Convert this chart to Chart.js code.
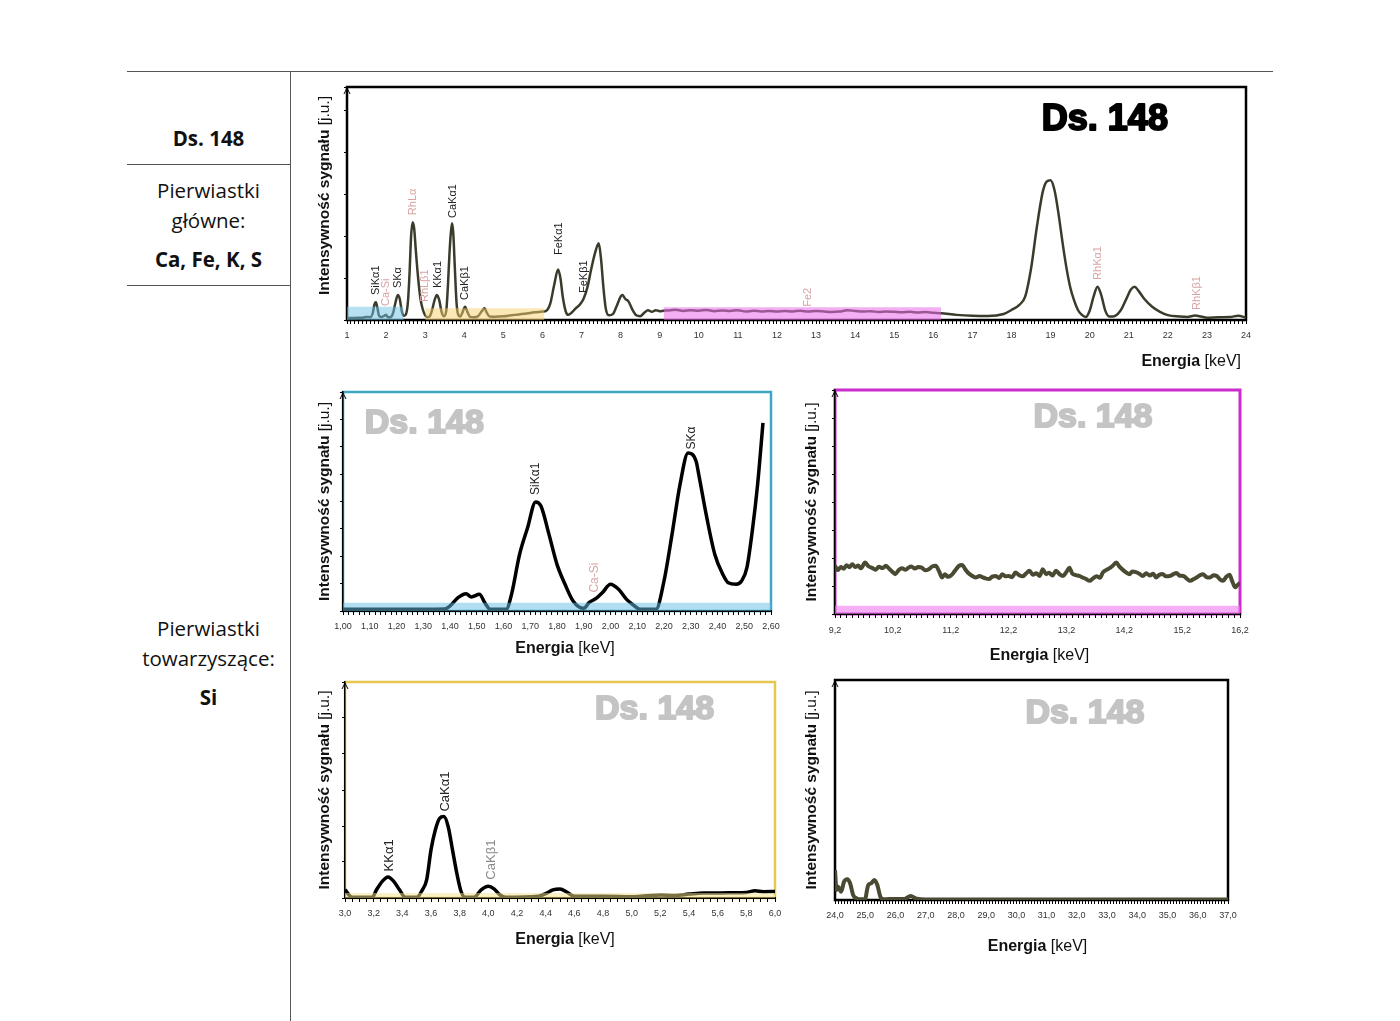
<!DOCTYPE html>
<html>
<head>
<meta charset="utf-8">
<script src="https://cdn.jsdelivr.net/npm/chart.js@4.4.1/dist/chart.umd.min.js"></script>
<style>
    body { margin: 0; background: #fff; width: 1400px; height: 1021px; position: relative; overflow: hidden; font-family: 'Open Sans', sans-serif; color: #111; }
    .rule { position: absolute; background: #555; }
    .cell { position: absolute; left: 127px; width: 163px; text-align: center; font-size: 20.5px; line-height: 26px; }
    .cell b { font-weight: 700; }
    .plot { position: absolute; }
</style>
</head>
<body>

<div class="rule" style="left:127px;top:71px;width:1146px;height:1px;"></div>
<div class="rule" style="left:290px;top:71px;width:1px;height:950px;"></div>
<div class="rule" style="left:127px;top:164px;width:163px;height:1px;"></div>
<div class="rule" style="left:127px;top:285px;width:163px;height:1px;"></div>

<div class="cell" style="top:125px;"><b>Ds. 148</b></div>
<div class="cell" style="top:177px;">Pierwiastki</div>
<div class="cell" style="top:207px;">główne:</div>
<div class="cell" style="top:246px;"><b>Ca, Fe, K, S</b></div>
<div class="cell" style="top:615px;">Pierwiastki</div>
<div class="cell" style="top:645px;">towarzyszące:</div>
<div class="cell" style="top:684px;"><b>Si</b></div>

<canvas id="mainChart" class="plot" width="960" height="300" style="left:300px;top:75px;"></canvas>
<canvas id="siChart" class="plot" width="490" height="285" style="left:300px;top:380px;"></canvas>
<canvas id="midChart" class="plot" width="470" height="290" style="left:795px;top:380px;"></canvas>
<canvas id="caChart" class="plot" width="490" height="290" style="left:300px;top:670px;"></canvas>
<canvas id="highChart" class="plot" width="470" height="295" style="left:795px;top:670px;"></canvas>

<script>
// --- widmo całkowite 1-24 keV ---
const mainEnergy = [1.00, 1.20, 1.40, 1.50, 1.60, 1.66, 1.70, 1.74, 1.78, 1.82, 1.88, 1.95, 2.00, 2.05, 2.12, 2.18, 2.24, 2.30, 2.35, 2.40,
    2.45, 2.50, 2.56, 2.60, 2.64, 2.68, 2.72, 2.76, 2.82, 2.88, 2.94, 3.00, 3.06, 3.12, 3.18, 3.24, 3.30, 3.36, 3.42, 3.48,
    3.54, 3.58, 3.62, 3.66, 3.69, 3.72, 3.76, 3.80, 3.84, 3.90, 3.96, 4.02, 4.08, 4.14, 4.25, 4.35, 4.45, 4.52, 4.58, 4.65,
    4.80, 5.00, 5.20, 5.40, 5.60, 5.80, 6.00, 6.10, 6.20, 6.30, 6.40, 6.46, 6.52, 6.60, 6.66, 6.75, 6.85, 6.95, 7.05, 7.15,
    7.25, 7.35, 7.44, 7.50, 7.56, 7.62, 7.70, 7.80, 7.90, 8.00, 8.05, 8.12, 8.20, 8.30, 8.40, 8.50, 8.60, 8.70, 8.80, 8.90,
    9.00, 9.10, 9.20, 9.40, 9.60, 9.80, 10.0, 10.2, 10.4, 10.6, 10.8, 11.0, 11.2, 11.4, 11.6, 11.8, 12.0, 12.2, 12.4, 12.6,
    12.8, 13.0, 13.2, 13.4, 13.6, 13.8, 14.0, 14.2, 14.4, 14.6, 14.8, 15.0, 15.2, 15.4, 15.6, 15.8, 16.0, 16.2, 16.6, 17.0,
    17.4, 17.8, 18.0, 18.2, 18.35, 18.5, 18.65, 18.8, 18.9, 19.0, 19.1, 19.2, 19.3, 19.4, 19.5, 19.6, 19.7, 19.8, 19.9, 20.0,
    20.1, 20.2, 20.3, 20.4, 20.5, 20.6, 20.8, 20.95, 21.05, 21.15, 21.25, 21.4, 21.6, 21.8, 22.0, 22.3, 22.5, 22.7, 22.85, 23.0,
    23.3, 23.6, 23.8, 24.0];
const mainSignal = [0.8, 0.9, 1.0, 1.3, 1.2, 3.0, 6.5, 7.6, 5.0, 1.8, 1.3, 1.8, 2.2, 1.2, 1.3, 3.0, 7.5, 10.7, 9.0, 4.0,
    1.8, 2.2, 8.0, 20.0, 36.0, 42.0, 39.0, 30.0, 18.0, 9.0, 4.5, 2.0, 1.2, 1.6, 4.5, 8.5, 10.7, 8.5, 3.5, 1.6,
    4.0, 14.0, 28.0, 38.0, 41.5, 37.0, 22.0, 8.0, 2.5, 1.5, 3.5, 5.7, 3.5, 1.5, 1.2, 1.6, 3.8, 5.0, 3.0, 1.5,
    1.4, 1.6, 2.0, 2.4, 2.8, 3.3, 3.6, 4.0, 7.0, 15.0, 21.7, 18.0, 10.0, 3.5, 2.2, 3.2, 5.0, 6.5, 9.0, 14.0,
    22.0, 29.0, 32.9, 26.0, 14.0, 5.0, 2.0, 2.5, 6.0, 10.0, 10.7, 9.0, 8.0, 4.5, 2.0, 1.6, 3.0, 4.2, 3.5, 4.2,
    3.8, 4.0, 4.1, 4.4, 3.9, 4.2, 4.0, 4.3, 3.8, 4.1, 3.9, 4.2, 3.6, 4.0, 3.7, 3.9, 3.6, 3.9, 3.7, 4.0,
    3.6, 3.9, 3.7, 3.4, 3.6, 4.2, 3.9, 3.6, 3.8, 3.4, 3.7, 3.5, 3.3, 3.5, 3.2, 3.4, 3.1, 2.9, 2.2, 1.8,
    1.7, 2.6, 4.3, 6.5, 10.0, 22.0, 40.0, 55.0, 59.4, 60.0, 55.8, 46.0, 34.0, 23.0, 14.3, 8.5, 4.3, 2.2, 1.3, 4.0,
    10.0, 14.3, 10.5, 4.0, 1.5, 1.5, 4.3, 9.5, 13.0, 14.3, 12.5, 9.0, 5.7, 3.5, 2.1, 1.5, 1.3, 1.9, 1.5, 1.0,
    1.2, 1.3, 1.8, 1.0];
const mainPeakNames = ['SiKα1', 'Ca-Si', 'SKα', 'RhLα', 'RhLβ1', 'KKα1', 'CaKα1', 'CaKβ1', 'FeKα1', 'FeKβ1', 'Fe2', 'RhKα1', 'RhKβ1'];
const mainPeakEnergy = [1.74, 2.00, 2.31, 2.70, 3.00, 3.32, 3.70, 4.03, 6.42, 7.07, 12.8, 20.22, 22.74];
const mainPeakLevel = [10.7, 6.0, 13.7, 45.0, 7.7, 13.7, 43.8, 8.6, 27.9, 11.6, 5.7, 17.2, 4.3];
const mainPeakKind = ['el', 'art', 'el', 'art', 'art', 'el', 'el', 'el', 'el', 'el', 'art', 'art', 'art'];

// --- zakres 1,00-2,60 keV ---
const siEnergy = [1.00, 1.10, 1.20, 1.30, 1.38, 1.40, 1.43, 1.46, 1.48, 1.51, 1.53, 1.55, 1.61, 1.63, 1.66, 1.69, 1.72, 1.74, 1.77, 1.80,
    1.83, 1.86, 1.90, 1.92, 1.95, 1.97, 2.00, 2.03, 2.06, 2.09, 2.11, 2.17, 2.20, 2.23, 2.26, 2.29, 2.32, 2.33, 2.36, 2.39,
    2.42, 2.44, 2.47, 2.49, 2.51, 2.53, 2.55, 2.57];
const siSignal = [0.8, 0.8, 0.8, 0.8, 0.9, 2.3, 6.1, 7.9, 6.4, 7.6, 3.8, 0.8, 0.8, 7.6, 25.8, 38.0, 49.8, 47.9, 35.0, 21.3,
    12.2, 4.6, 1.2, 3.8, 6.1, 8.4, 12.2, 9.9, 5.3, 2.3, 0.8, 0.8, 13.7, 35.0, 57.8, 72.2, 68.4, 62.3, 42.6, 25.8,
    16.7, 12.9, 12.2, 13.7, 19.8, 36.5, 57.8, 85.9];
const siPeakNames = ['SiKα1', 'Ca-Si', 'SKα'];
const siPeakEnergy = [1.72, 1.94, 2.305];
const siPeakLevel = [53.0, 8.4, 73.7];
const siPeakKind = ['el', 'art', 'el'];

// --- zakres 9,2-16,2 keV ---
const midEnergy = [9.20, 9.25, 9.30, 9.35, 9.40, 9.45, 9.50, 9.55, 9.60, 9.65, 9.72, 9.78, 9.84, 9.90, 9.96, 10.02, 10.08, 10.14, 10.20, 10.24,
    10.30, 10.36, 10.42, 10.47, 10.52, 10.58, 10.64, 10.70, 10.76, 10.82, 10.88, 10.94, 11.00, 11.05, 11.10, 11.15, 11.20, 11.25, 11.30, 11.34,
    11.40, 11.45, 11.50, 11.56, 11.63, 11.70, 11.75, 11.80, 11.86, 11.92, 11.98, 12.04, 12.09, 12.15, 12.20, 12.26, 12.32, 12.38, 12.44, 12.50,
    12.56, 12.62, 12.68, 12.74, 12.79, 12.85, 12.90, 12.96, 13.02, 13.08, 13.14, 13.20, 13.25, 13.30, 13.36, 13.42, 13.48, 13.54, 13.60, 13.66,
    13.72, 13.78, 13.83, 13.90, 13.96, 14.00, 14.06, 14.12, 14.18, 14.24, 14.29, 14.34, 14.40, 14.46, 14.52, 14.58, 14.64, 14.70, 14.75, 14.80,
    14.86, 14.92, 14.99, 15.05, 15.10, 15.16, 15.22, 15.28, 15.34, 15.40, 15.45, 15.50, 15.56, 15.62, 15.68, 15.74, 15.80, 15.86, 15.91, 15.96,
    16.02, 16.06, 16.10, 16.12, 16.16, 16.20];
const midSignal = [21.5, 19.6, 21.0, 20.2, 21.8, 20.9, 22.2, 21.0, 21.6, 20.4, 23.0, 21.3, 20.6, 19.8, 21.1, 20.5, 21.5, 20.1, 18.6, 17.8,
    19.6, 20.4, 19.7, 20.7, 21.2, 20.3, 21.0, 20.7, 19.5, 20.0, 21.2, 21.5, 19.0, 16.3, 17.8, 16.6, 17.1, 18.5, 20.2, 21.5,
    21.9, 20.0, 18.4, 17.2, 16.3, 17.0, 16.4, 15.9, 15.6, 16.7, 17.0, 16.1, 17.8, 16.8, 17.0, 16.4, 18.5, 17.4, 16.8, 18.0,
    19.3, 17.5, 18.2, 17.0, 20.0, 17.8, 18.4, 17.2, 19.3, 17.8, 17.0, 18.8, 20.7, 18.1, 17.4, 17.0, 16.3, 15.6, 14.8, 15.9,
    16.8, 16.2, 18.5, 19.8, 20.7, 21.5, 23.0, 21.0, 19.6, 18.4, 17.8, 19.0, 18.7, 18.0, 17.0, 18.2, 17.2, 18.0, 16.3, 17.4,
    17.9, 16.8, 17.0, 17.8, 18.3, 17.1, 17.0, 15.8, 14.8, 15.6, 16.3, 17.2, 17.8, 16.5, 16.3, 17.3, 17.0, 15.3, 14.8, 16.5,
    17.5, 15.0, 12.5, 11.9, 13.0, 14.0];

// --- zakres 3,0-6,0 keV ---
const caEnergy = [3.00, 3.05, 3.10, 3.19, 3.22, 3.26, 3.30, 3.34, 3.38, 3.42, 3.50, 3.54, 3.57, 3.60, 3.63, 3.66, 3.69, 3.72, 3.75, 3.78,
    3.81, 3.84, 3.90, 3.95, 4.00, 4.04, 4.08, 4.12, 4.35, 4.40, 4.45, 4.50, 4.55, 4.60, 4.80, 5.00, 5.10, 5.20, 5.30, 5.40,
    5.50, 5.60, 5.70, 5.80, 5.86, 5.92, 6.00];
const caSignal = [3.8, 0.3, 0.3, 0.3, 3.8, 7.7, 9.7, 7.7, 3.8, 0.3, 0.3, 3.8, 8.5, 22.3, 31.5, 36.9, 37.7, 33.0, 22.3, 11.5,
    3.0, 0.3, 0.3, 3.8, 5.4, 4.2, 1.5, 0.3, 0.8, 2.0, 3.8, 4.2, 2.6, 0.8, 0.8, 0.6, 1.0, 1.4, 1.2, 1.8,
    2.3, 2.3, 2.4, 2.6, 3.3, 2.9, 3.0];
const caPeakNames = ['KKα1', 'CaKα1', 'CaKβ1'];
const caPeakEnergy = [3.31, 3.70, 4.02];
const caPeakLevel = [12.3, 40.0, 8.5];
const caPeakKind = ['el', 'el', 'weak'];

// --- zakres 24,0-37,0 keV ---
const highEnergy = [24.00, 24.05, 24.10, 24.20, 24.30, 24.40, 24.50, 24.60, 24.70, 24.80, 25.00, 25.05, 25.10, 25.20, 25.30, 25.40, 25.50, 25.60, 26.00, 26.30,
    26.50, 26.70, 27.00, 28.00, 29.00, 30.00, 31.00, 32.00, 33.00, 34.00, 35.00, 36.00, 37.00];
const highSignal = [13.6, 4.5, 6.0, 3.8, 8.3, 9.4, 7.6, 2.3, 0.8, 0.3, 0.3, 3.8, 6.8, 7.6, 9.1, 6.8, 1.5, 0.3, 0.5, 0.5,
    1.8, 0.6, 0.2, 0.2, 0.2, 0.2, 0.2, 0.2, 0.2, 0.2, 0.2, 0.2, 0.2];

const kindColors = { el: '#222', art: '#d9a3a3', weak: '#8a8a8a' };
const sansFont = '"Liberation Sans", Arial, sans-serif';

function toPoints(xs, ys) {
    return xs.map((x, i) => ({ x: x, y: ys[i] }));
}

function toPeaks(names, energy, level, kind) {
    return names.map((n, i) => ({ text: n, e: energy[i], v: level[i], color: kindColors[kind[i]] }));
}

function measureMixed(ctx, boldPart, normalPart, size) {
    ctx.font = `bold ${size}px ${sansFont}`;
    const w1 = ctx.measureText(boldPart).width;
    ctx.font = `${size}px ${sansFont}`;
    const w2 = ctx.measureText(normalPart).width;
    return { w1, w2, total: w1 + w2 };
}

const spectrumDecor = {
    id: 'spectrumDecor',
    beforeDraw(chart, args, opts) {
        const { ctx, chartArea: a } = chart;
        ctx.save();
        ctx.strokeStyle = opts.frameColor;
        ctx.lineWidth = opts.frameWidth;
        ctx.strokeRect(a.left, a.top, a.right - a.left, a.bottom - a.top);
        ctx.restore();
    },
    afterDatasetsDraw(chart, args, opts) {
        const { ctx, chartArea: a, scales: { x, y } } = chart;
        ctx.save();

        // etykiety pików
        ctx.textBaseline = 'middle';
        ctx.textAlign = 'left';
        ctx.font = `${opts.peakSize}px ${sansFont}`;
        (opts.peaks || []).forEach(p => {
            ctx.save();
            ctx.translate(x.getPixelForValue(p.e), y.getPixelForValue(p.v));
            ctx.rotate(-Math.PI / 2);
            ctx.fillStyle = p.color;
            ctx.fillText(p.text, 0, 0);
            ctx.restore();
        });

        // napis próbki (pogrubiony obrysem, jak w oryginale)
        ctx.font = `bold ${opts.tagSize}px ${sansFont}`;
        ctx.fillStyle = opts.tagColor;
        ctx.strokeStyle = opts.tagColor;
        ctx.lineWidth = 2;
        ctx.lineJoin = 'round';
        ctx.textAlign = 'center';
        const tx = a.left + (a.right - a.left) * opts.tagX, ty = a.top + (a.bottom - a.top) * opts.tagY;
        ctx.strokeText('Ds. 148', tx, ty);
        ctx.fillText('Ds. 148', tx, ty);

        // strzałka osi Y
        ctx.strokeStyle = '#000';
        ctx.lineWidth = 1;
        ctx.beginPath();
        ctx.moveTo(a.left - 3, a.top + 7);
        ctx.lineTo(a.left, a.top + 1);
        ctx.lineTo(a.left + 3, a.top + 7);
        ctx.stroke();

        // tytuł osi Y
        const ySize = 15.5;
        const yt = measureMixed(ctx, 'Intensywność sygnału ', '[j.u.]', ySize);
        ctx.save();
        ctx.translate(opts.yTitleX, (a.top + a.bottom) / 2 + (opts.yTitleDy || 0));
        ctx.rotate(-Math.PI / 2);
        ctx.textAlign = 'left';
        ctx.fillStyle = '#111';
        ctx.font = `bold ${ySize}px ${sansFont}`;
        ctx.fillText('Intensywność sygnału ', -yt.total / 2, 0);
        ctx.font = `${ySize}px ${sansFont}`;
        ctx.fillText('[j.u.]', -yt.total / 2 + yt.w1, 0);
        ctx.restore();

        // tytuł osi X
        const xt = measureMixed(ctx, 'Energia', ' [keV]', 16);
        let startX = opts.xTitleAlign === 'right' ? a.right - 5 - xt.total : (a.left + a.right) / 2 + opts.xTitleDx - xt.total / 2;
        ctx.textAlign = 'left';
        ctx.fillStyle = '#111';
        ctx.font = `bold 16px ${sansFont}`;
        ctx.fillText('Energia', startX, opts.xTitleY);
        ctx.font = `16px ${sansFont}`;
        ctx.fillText(' [keV]', startX + xt.w1, opts.xTitleY);

        ctx.restore();
    }
};

function renderSpectrum(canvasId, cfg) {
    const ctx = document.getElementById(canvasId).getContext('2d');
    const datasets = [];

    (cfg.bands || []).forEach(b => {
        datasets.push({
            data: [{ x: b.from, y: b.top }, { x: b.to, y: b.top }],
            fill: 'origin',
            backgroundColor: b.color,
            borderWidth: 0,
            pointRadius: 0
        });
    });

    datasets.push({
        data: cfg.points,
        borderColor: cfg.lineColor,
        borderWidth: cfg.lineWidth,
        pointRadius: 0,
        fill: false,
        cubicInterpolationMode: 'monotone'
    });

    const isMajor = v => {
        const k = (v - cfg.min) / cfg.major;
        return Math.abs(k - Math.round(k)) < 1e-4;
    };

    return new Chart(ctx, {
        type: 'line',
        data: { datasets },
        options: {
            responsive: false,
            animation: false,
            events: [],
            layout: { padding: { left: 0, top: cfg.padTop, right: cfg.padRight, bottom: 0 } },
            plugins: {
                legend: { display: false },
                tooltip: { enabled: false },
                spectrumDecor: cfg.decor
            },
            scales: {
                x: {
                    type: 'linear',
                    min: cfg.min,
                    max: cfg.max,
                    afterFit: s => { s.height = cfg.xHeight; },
                    ticks: {
                        stepSize: cfg.minor,
                        autoSkip: false,
                        maxRotation: 0,
                        padding: cfg.tickPad,
                        color: '#333',
                        font: { family: sansFont, size: 9 },
                        callback: v => isMajor(v) ? cfg.fmt(v) : ''
                    },
                    grid: { drawOnChartArea: false, tickLength: 4, color: '#000', lineWidth: 1 },
                    border: { color: '#000', width: 2 }
                },
                y: {
                    min: 0,
                    max: 100,
                    afterFit: s => { s.width = cfg.yWidth; },
                    ticks: { display: cfg.yStep > 0, stepSize: cfg.yStep || 100, callback: () => '', padding: 0 },
                    grid: { drawOnChartArea: false, tickLength: cfg.yStep > 0 ? 3 : 0, color: '#000', lineWidth: 1 },
                    border: { color: '#000', width: 1.5 }
                }
            }
        },
        plugins: [spectrumDecor]
    });
}

const comma = d => v => v.toFixed(d).replace('.', ',');

renderSpectrum('mainChart', {
    points: toPoints(mainEnergy, mainSignal),
    min: 1, max: 24, major: 1, minor: 0.1, fmt: v => String(Math.round(v)),
    padTop: 12, padRight: 14, yWidth: 47, xHeight: 55, tickPad: 6, yStep: 18,
    lineColor: '#3b3b2c', lineWidth: 2.5,
    bands: [
        { from: 1.0, to: 2.45, top: 5.7, color: 'rgba(110,195,230,0.5)' },
        { from: 3.0, to: 6.05, top: 5.0, color: 'rgba(245,210,110,0.5)' },
        { from: 9.1, to: 16.2, top: 5.5, color: 'rgba(235,110,235,0.55)' }
    ],
    decor: {
        frameColor: '#000', frameWidth: 2.5,
        peaks: toPeaks(mainPeakNames, mainPeakEnergy, mainPeakLevel, mainPeakKind), peakSize: 11,
        tagColor: '#000', tagSize: 36, tagX: 0.843, tagY: 0.14,
        yTitleX: 25, yTitleDy: -8, xTitleAlign: 'right', xTitleY: 287
    }
});

renderSpectrum('siChart', {
    points: toPoints(siEnergy, siSignal),
    min: 1.0, max: 2.6, major: 0.1, minor: 0.02, fmt: comma(2),
    padTop: 12, padRight: 19, yWidth: 43, xHeight: 54, tickPad: 6, yStep: 12.5,
    lineColor: '#000', lineWidth: 3.5,
    bands: [{ from: 1.0, to: 2.6, top: 3.8, color: 'rgba(100,190,225,0.5)' }],
    decor: {
        frameColor: '#3ea6c2', frameWidth: 2.5,
        peaks: toPeaks(siPeakNames, siPeakEnergy, siPeakLevel, siPeakKind), peakSize: 12,
        tagColor: '#c4c4c4', tagSize: 34, tagX: 0.19, tagY: 0.146,
        yTitleX: 25, xTitleDx: 8, xTitleY: 269
    }
});

renderSpectrum('midChart', {
    points: toPoints(midEnergy, midSignal),
    min: 9.2, max: 16.2, major: 1, minor: 0.1, fmt: comma(1),
    padTop: 10, padRight: 25, yWidth: 40, xHeight: 56, tickPad: 7, yStep: 12.5,
    lineColor: '#4a4a32', lineWidth: 4,
    bands: [{ from: 9.2, to: 16.2, top: 3.7, color: 'rgba(240,120,240,0.6)' }],
    decor: {
        frameColor: '#cc2ccc', frameWidth: 3,
        peaks: [], peakSize: 12,
        tagColor: '#c4c4c4', tagSize: 34, tagX: 0.637, tagY: 0.125,
        yTitleX: 17, xTitleDx: 2, xTitleY: 276
    }
});

renderSpectrum('caChart', {
    points: toPoints(caEnergy, caSignal),
    min: 3.0, max: 6.0, major: 0.2, minor: 0.05, fmt: comma(1),
    padTop: 12, padRight: 15, yWidth: 45, xHeight: 62, tickPad: 6, yStep: 100 / 6,
    lineColor: '#000', lineWidth: 3.5,
    bands: [{ from: 3.0, to: 6.0, top: 2.3, color: 'rgba(245,225,140,0.5)' }],
    decor: {
        frameColor: '#e6c850', frameWidth: 2.5,
        peaks: toPeaks(caPeakNames, caPeakEnergy, caPeakLevel, caPeakKind), peakSize: 13,
        tagColor: '#c4c4c4', tagSize: 34, tagX: 0.72, tagY: 0.13,
        yTitleX: 25, xTitleDx: 5, xTitleY: 270
    }
});

renderSpectrum('highChart', {
    points: toPoints(highEnergy, highSignal),
    min: 24, max: 37, major: 1, minor: 0.1, fmt: comma(1),
    padTop: 10, padRight: 37, yWidth: 40, xHeight: 65, tickPad: 6, yStep: 0,
    lineColor: '#4a4a32', lineWidth: 4,
    bands: [],
    decor: {
        frameColor: '#000', frameWidth: 2.5,
        peaks: [], peakSize: 12,
        tagColor: '#c4c4c4', tagSize: 34, tagX: 0.636, tagY: 0.155,
        yTitleX: 17, xTitleDx: 6, xTitleY: 277
    }
});
</script>
</body>
</html>
